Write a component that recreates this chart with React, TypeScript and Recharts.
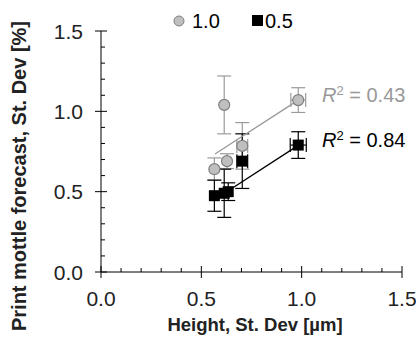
import React from 'react';
import { ScatterChart, Scatter, XAxis, YAxis, ErrorBar } from 'recharts';

// measured groups: 1.0 (grey circles) and 0.5 (black squares)
const heightGrey = [0.565, 0.614, 0.628, 0.704, 0.983];
const mottleGrey = [0.64, 1.04, 0.69, 0.785, 1.07];
const errYGrey = [0.07, 0.18, 0.046, 0.145, 0.077];
const errXGrey = [0, 0, 0, 0.027, 0.037];

const heightBlack = [0.565, 0.614, 0.634, 0.704, 0.983];
const mottleBlack = [0.475, 0.49, 0.5, 0.69, 0.79];
const errYBlack = [0.097, 0.15, 0.055, 0.17, 0.083];
const errXBlack = [0, 0, 0, 0.027, 0.04];

// fitted trend lines, end points
const fitXGrey = [0.568, 0.983];
const fitYGrey = [0.734, 1.07];
const fitXBlack = [0.565, 0.983];
const fitYBlack = [0.45, 0.788];

const axisTicks = [0, 0.1, 0.2, 0.3, 0.4, 0.5, 0.6, 0.7, 0.8, 0.9, 1.0, 1.1, 1.2, 1.3, 1.4, 1.5];

const FONT = '"Liberation Sans", Arial, sans-serif';
const GREY_FILL = '#bfbfbf';
const GREY_STROKE = '#808080';
const GREY_BAR = '#9a9a9a';

const pts = (xs: number[], ys: number[], ex?: number[], ey?: number[]) =>
  xs.map((x, i) => ({ x, y: ys[i], ex: ex ? ex[i] : 0, ey: ey ? ey[i] : 0 }));

const greyData = pts(heightGrey, mottleGrey, errXGrey, errYGrey);
const blackData = pts(heightBlack, mottleBlack, errXBlack, errYBlack);
const greyFit = pts(fitXGrey, fitYGrey);
const blackFit = pts(fitXBlack, fitYBlack);

const isMajor = (v: number) => Math.abs(v * 2 - Math.round(v * 2)) < 1e-6;

const XTick = (props: any) => {
  const { x, y, payload } = props;
  const major = isMajor(payload.value);
  return (
    <g>
      <line x1={x} x2={x} y1={y - (major ? 6 : 4)} y2={y + (major ? 6 : 0)} stroke="#000" />
      {major && (
        <text x={x} y={y + 34} textAnchor="middle" fontSize={21} fill="#222" fontFamily={FONT}>
          {payload.value.toFixed(1)}
        </text>
      )}
    </g>
  );
};

const YTick = (props: any) => {
  const { x, y, payload } = props;
  const major = isMajor(payload.value);
  return (
    <g>
      <line x1={x - (major ? 6 : 0)} x2={x + (major ? 6 : 4)} y1={y} y2={y} stroke="#000" />
      {major && (
        <text x={x - 18} y={y + 7.5} textAnchor="end" fontSize={21} fill="#222" fontFamily={FONT}>
          {payload.value.toFixed(1)}
        </text>
      )}
    </g>
  );
};

const noDot = () => <g />;

export default function App() {
  return (
    <div style={{ position: 'absolute', left: 0, top: 0, width: 416, height: 341, background: '#fff' }}>
      <ScatterChart width={416} height={341} margin={{ top: 31, right: 14, bottom: 0, left: 0 }}>
        <XAxis
          type="number"
          dataKey="x"
          domain={[0, 1.5]}
          ticks={axisTicks}
          interval={0}
          height={69}
          tickSize={0}
          tickMargin={0}
          tickLine={false}
          tick={<XTick />}
          stroke="#000"
        />
        <YAxis
          type="number"
          dataKey="y"
          domain={[0, 1.5]}
          ticks={axisTicks}
          interval={0}
          width={101}
          tickSize={0}
          tickMargin={0}
          tickLine={false}
          tick={<YTick />}
          stroke="#000"
        />
        <Scatter data={greyFit} line={{ stroke: '#999', strokeWidth: 1.3 }} shape={noDot} isAnimationActive={false} />
        <Scatter
          data={greyData}
          isAnimationActive={false}
          shape={(p: any) => <circle cx={p.cx} cy={p.cy} r={5.5} fill={GREY_FILL} stroke={GREY_STROKE} strokeWidth={1.2} />}
        >
          <ErrorBar dataKey="ey" direction="y" width={7} stroke={GREY_BAR} strokeWidth={1.2} />
          <ErrorBar dataKey="ex" direction="x" width={7} stroke={GREY_BAR} strokeWidth={1.2} />
        </Scatter>
        <Scatter data={blackFit} line={{ stroke: '#000', strokeWidth: 1.3 }} shape={noDot} isAnimationActive={false} />
        <Scatter
          data={blackData}
          isAnimationActive={false}
          shape={(p: any) => <rect x={p.cx - 5.5} y={p.cy - 5.5} width={11} height={11} fill="#000" />}
        >
          <ErrorBar dataKey="ey" direction="y" width={7} stroke="#000" strokeWidth={1.2} />
          <ErrorBar dataKey="ex" direction="x" width={7} stroke="#000" strokeWidth={1.2} />
        </Scatter>
      </ScatterChart>
      <svg
        width={416}
        height={341}
        style={{ position: 'absolute', left: 0, top: 0, pointerEvents: 'none' }}
        fontFamily={FONT}
      >
        {/* legend */}
        <circle cx={179} cy={21} r={5} fill={GREY_FILL} stroke={GREY_STROKE} />
        <text x={192} y={28} fontSize={20} fill="#000">1.0</text>
        <rect x={252} y={15} width={11} height={11} fill="#000" />
        <text x={265} y={28} fontSize={20} fill="#000">0.5</text>
        {/* R squared */}
        <text x={322} y={102} fontSize={20} fill="#999">
          <tspan fontStyle="italic">R</tspan>
          <tspan fontSize={13} dy={-7}>2</tspan>
          <tspan dy={7}> = 0.43</tspan>
        </text>
        <text x={322} y={147} fontSize={20} fill="#000">
          <tspan fontStyle="italic">R</tspan>
          <tspan fontSize={13} dy={-7}>2</tspan>
          <tspan dy={7}> = 0.84</tspan>
        </text>
        {/* axis titles */}
        <text x={255} y={331} textAnchor="middle" fontSize={18.5} fontWeight="bold" fill="#222">
          Height, St. Dev [µm]
        </text>
        <text
          x={26}
          y={176}
          transform="rotate(-90 26 176)"
          textAnchor="middle"
          fontSize={20}
          fontWeight="bold"
          fill="#222"
        >
          Print mottle forecast, St. Dev [%]
        </text>
      </svg>
    </div>
  );
}
